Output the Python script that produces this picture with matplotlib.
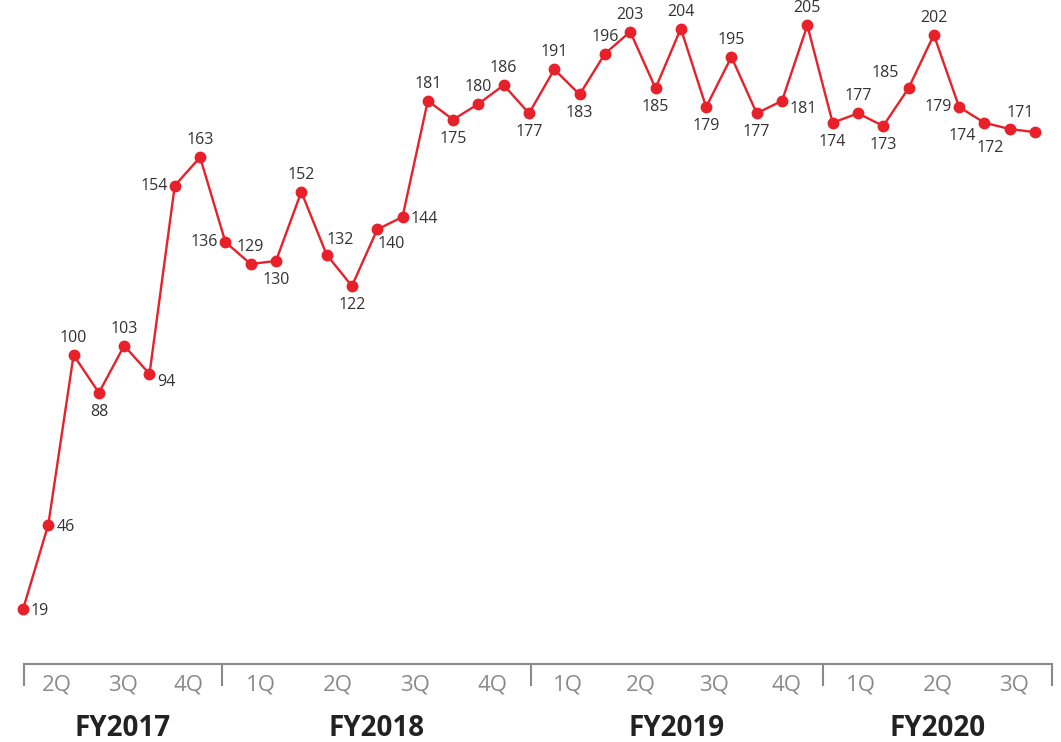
import matplotlib.pyplot as plt
import numpy as np

# monthly values, FY2017 2Q .. FY2020 3Q
values = [19, 46, 100, 88, 103, 94, 154, 163, 136, 129, 130, 152, 132, 122,
          140, 144, 181, 175, 180, 186, 177, 191, 183, 196, 203, 185, 204, 179,
          195, 177, 181, 205, 174, 177, 173, 185, 202, 179, 174, 172, 171]
years = ["FY2017", "FY2018", "FY2019", "FY2020"]
quarters = [["2Q", "3Q", "4Q"],
            ["1Q", "2Q", "3Q", "4Q"],
            ["1Q", "2Q", "3Q", "4Q"],
            ["1Q", "2Q", "3Q"]]

# where each value label sits relative to its point
label_pos = ["r", "r", "a", "b", "a", "rb", "l", "a", "l", "a", "b", "a", "ar",
             "b", "br", "r", "a", "b", "a", "a", "b", "a", "b", "a", "a", "b",
             "a", "b", "a", "b", "rb", "a", "b", "a", "b", "al", "a", "l", "bl",
             "bl2", "al2"]
offsets = {  # dx, dy in pixels, horizontal alignment
    "a": (0, 17, "center"), "b": (0, -19, "center"),
    "r": (8, -2, "left"), "rb": (8, -8, "left"), "l": (-7, 0, "right"),
    "ar": (14, 15, "center"), "br": (14, -15, "center"),
    "al": (-23, 15, "center"), "bl": (-22, -13, "center"),
    "al2": (-15, 19, "center"), "bl2": (-20, -19, "center"),
}

red = "#e8202a"
grey = "#8a8a8a"
plt.rcParams["font.family"] = ["Open Sans", "DejaVu Sans"]

W, H = 1061, 742
fig = plt.figure(figsize=(W / 100, H / 100), dpi=100)
ax = fig.add_axes([24 / W, (H - 664) / H, (1052 - 24) / W, 664 / H])

x = np.arange(len(values))
ax.plot(x, values, color=red, lw=1.7, marker="o", ms=7.5, clip_on=False, zorder=3)

# offsets are in pixels; at 100 dpi 1 px = 0.72 pt
for xi, v, pos in zip(x, values, label_pos):
    dx, dy, ha = offsets[pos]
    ax.annotate(str(v), (xi, v), xytext=(dx * 0.72, dy * 0.72),
                textcoords="offset points", ha=ha, va="center",
                fontsize=11.5, color="#333333", annotation_clip=False)

ax.set_xlim(0.04, 40.67)
ax.set_ylim(1.6, 213.1)

# fiscal year boundaries on the month scale
bounds = [0.04, 7.86, 20.08, 31.62, 40.67]
for s in ["top", "left", "right"]:
    ax.spines[s].set_visible(False)
ax.spines["bottom"].set_color(grey)
ax.spines["bottom"].set_linewidth(1.5)
ax.set_yticks([])
ax.set_xticks(bounds)
ax.set_xticklabels([])
ax.tick_params(axis="x", length=16, width=1.5, color=grey, direction="out")

for i, (yr, qs) in enumerate(zip(years, quarters)):
    lo, hi = bounds[i], bounds[i + 1]
    step = (hi - lo) / len(qs)
    for j, q in enumerate(qs):
        ax.annotate(q, (lo + step * (j + 0.5), 0), xycoords=("data", "axes fraction"),
                    xytext=(0, -15), textcoords="offset points",
                    ha="center", va="center", fontsize=16, color=grey)
    ax.annotate(yr, ((lo + hi) / 2, 0), xycoords=("data", "axes fraction"),
                xytext=(0, -46.5), textcoords="offset points",
                ha="center", va="center", fontsize=20, fontweight="bold",
                color="#222222")

fig.savefig("out.png", dpi=100)
